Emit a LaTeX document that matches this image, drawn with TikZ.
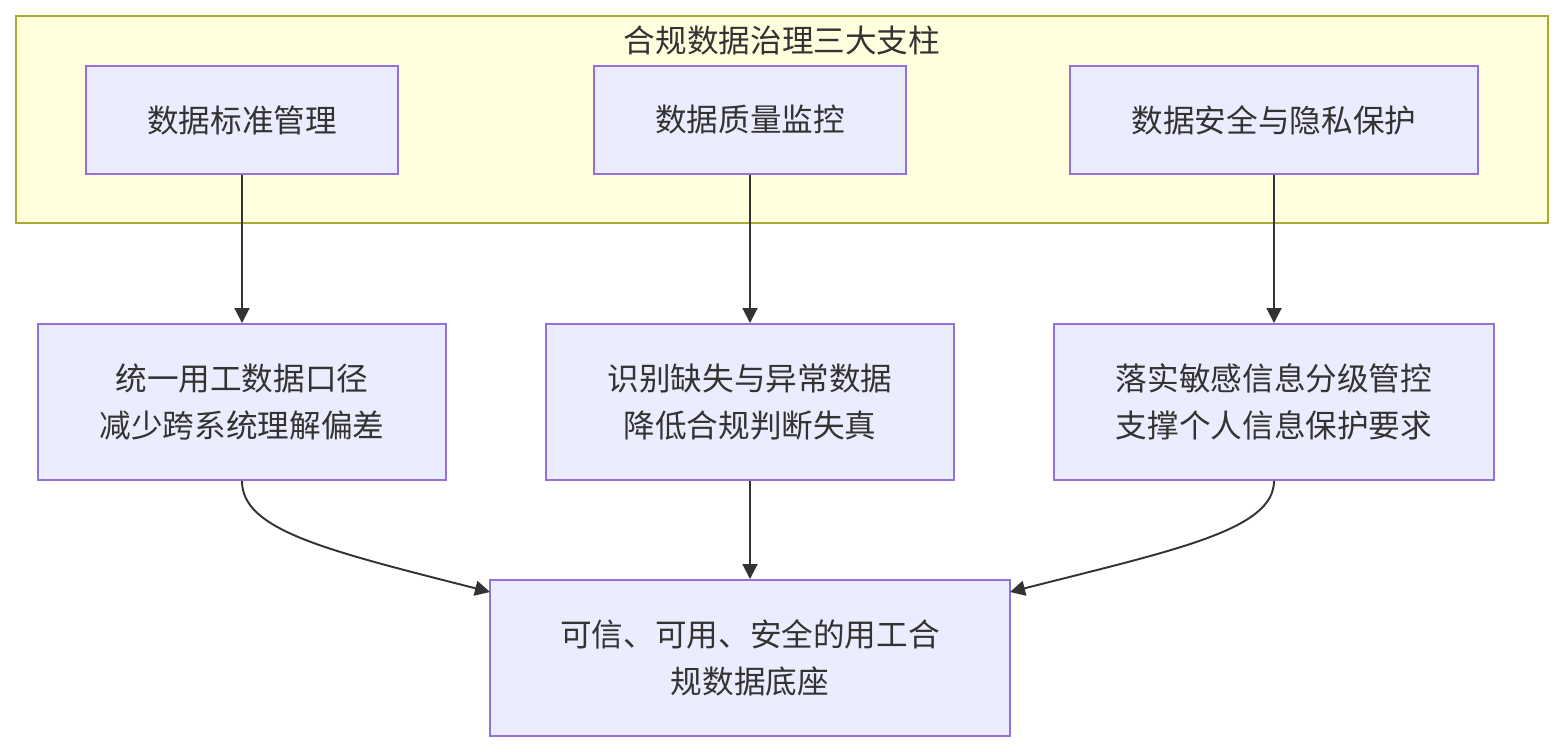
\documentclass[tikz,border=0pt]{standalone}
\usepackage{fontspec}
\setmainfont{Noto Sans CJK SC}
\usetikzlibrary{arrows.meta}
\definecolor{boxfill}{HTML}{ECECFF}
\definecolor{boxline}{HTML}{9370DB}
\definecolor{groupfill}{HTML}{FFFFDE}
\definecolor{groupline}{HTML}{AAAA33}
\definecolor{ink}{HTML}{333333}
\tikzset{
  pillar/.style={draw=boxline, fill=boxfill, line width=1.1pt, text=ink,
    align=center, font=\fontsize{18}{27}\selectfont, inner sep=0pt},
  flow/.style={-{Triangle[length=0.3cm,width=0.3cm]}, draw=ink, line width=1.1pt}
}
\begin{document}
\begin{tikzpicture}
    \useasboundingbox (0,0) rectangle (31.28,-15.04);
    \draw[groupline, fill=groupfill, line width=1.1pt] (0.32,-0.32) rectangle (30.96,-4.46);
    \node[text=ink, font=\fontsize{18}{27}\selectfont] (title) at (15.64,-0.80) {合规数据治理三大支柱};
    % top row
    \node[pillar, minimum width=6.24cm, minimum height=2.16cm] (std) at (4.84,-2.40) {数据标准管理};
    \node[pillar, minimum width=6.24cm, minimum height=2.16cm] (qual) at (15.0,-2.40) {数据质量监控};
    \node[pillar, minimum width=8.16cm, minimum height=2.16cm] (sec) at (25.48,-2.40) {数据安全与隐私保护};
    % middle row
    \node[pillar, minimum width=8.16cm, minimum height=3.12cm] (unify) at (4.84,-8.04) {统一用工数据口径\\减少跨系统理解偏差};
    \node[pillar, minimum width=8.16cm, minimum height=3.12cm] (detect) at (15.0,-8.04) {识别缺失与异常数据\\降低合规判断失真};
    \node[pillar, minimum width=8.8cm, minimum height=3.12cm] (grade) at (25.48,-8.04) {落实敏感信息分级管控\\支撑个人信息保护要求};
    % base
    \node[pillar, minimum width=10.4cm, minimum height=3.12cm] (base) at (15.0,-13.16) {可信、可用、安全的用工合\\规数据底座};
    \coordinate (baseL) at (9.8,-11.84);
    \coordinate (baseR) at (20.2,-11.84);
    \draw[flow] (std) -- (unify);
    \draw[flow] (qual) -- (detect);
    \draw[flow] (sec) -- (grade);
    \draw[flow] (detect) -- (base);
    \draw[flow] (unify.south) .. controls (4.84,-10.6) and (6.5,-11.0) .. (baseL);
    \draw[flow] (grade.south) .. controls (25.48,-10.6) and (23.5,-11.0) .. (baseR);
\end{tikzpicture}
\end{document}
